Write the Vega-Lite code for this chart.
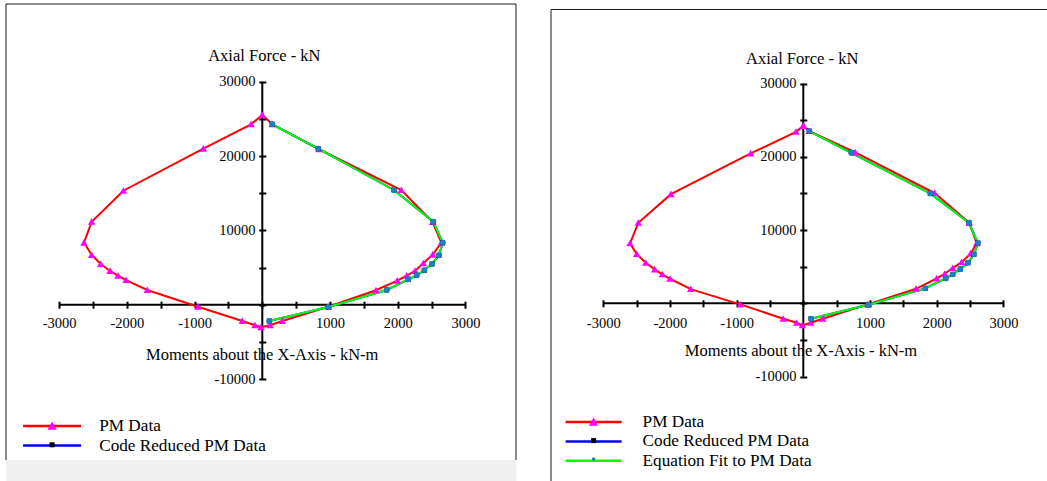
{
  "$schema": "https://vega.github.io/schema/vega-lite/v6.json",
  "background": "white",
  "padding": {"left": 5, "top": 3, "right": 0, "bottom": 0},
  "bounds": "flush",
  "spacing": 33,
  "config": {
    "view": {"stroke": null},
    "font": "Liberation Serif",
    "axis": {
      "domain": false, "grid": false,
      "ticks": true, "tickColor": "black", "tickWidth": 2, "tickSize": 7,
      "labelFont": "Liberation Serif", "labelFontSize": 14.5, "labelColor": "black",
      "labelOverlap": false, "labelFlush": false,
      "titleFont": "Liberation Serif", "titleFontSize": 16.5, "titleFontWeight": "normal", "titleColor": "black"
    },
    "legend": {
      "orient": "none", "padding": 0, "title": null,
      "labelFont": "Liberation Serif", "labelFontSize": 17.2, "labelColor": "black", "labelLimit": 0,
      "symbolSize": 100, "symbolOpacity": 1
    }
  },
  "datasets": {
    "left": [
      {"series": "PM Data", "M": 0, "P": 25530},
      {"series": "PM Data", "M": -167, "P": 24280},
      {"series": "PM Data", "M": -871, "P": 21000},
      {"series": "PM Data", "M": -2053, "P": 15340},
      {"series": "PM Data", "M": -2520, "P": 11170},
      {"series": "PM Data", "M": -2634, "P": 8340},
      {"series": "PM Data", "M": -2520, "P": 6690},
      {"series": "PM Data", "M": -2387, "P": 5480},
      {"series": "PM Data", "M": -2250, "P": 4540},
      {"series": "PM Data", "M": -2131, "P": 3900},
      {"series": "PM Data", "M": -2013, "P": 3320},
      {"series": "PM Data", "M": -1699, "P": 1980},
      {"series": "PM Data", "M": -950, "P": -270},
      {"series": "PM Data", "M": -295, "P": -2190},
      {"series": "PM Data", "M": -108, "P": -2770},
      {"series": "PM Data", "M": -19, "P": -3040},
      {"series": "PM Data", "M": 114, "P": -2770},
      {"series": "PM Data", "M": 295, "P": -2190},
      {"series": "PM Data", "M": 975, "P": -270},
      {"series": "PM Data", "M": 1679, "P": 1940},
      {"series": "PM Data", "M": 1994, "P": 3230},
      {"series": "PM Data", "M": 2133, "P": 3900},
      {"series": "PM Data", "M": 2256, "P": 4540},
      {"series": "PM Data", "M": 2378, "P": 5570},
      {"series": "PM Data", "M": 2517, "P": 6730},
      {"series": "PM Data", "M": 2644, "P": 8340},
      {"series": "PM Data", "M": 2517, "P": 11130},
      {"series": "PM Data", "M": 2053, "P": 15440},
      {"series": "PM Data", "M": 838, "P": 20920},
      {"series": "PM Data", "M": 148, "P": 24280},
      {"series": "PM Data", "M": 0, "P": 25530},
      {"series": "Code Reduced PM Data", "M": 148, "P": 24280},
      {"series": "Code Reduced PM Data", "M": 827, "P": 21000},
      {"series": "Code Reduced PM Data", "M": 1945, "P": 15440},
      {"series": "Code Reduced PM Data", "M": 2526, "P": 11170},
      {"series": "Code Reduced PM Data", "M": 2665, "P": 8340},
      {"series": "Code Reduced PM Data", "M": 2610, "P": 6650},
      {"series": "Code Reduced PM Data", "M": 2507, "P": 5480},
      {"series": "Code Reduced PM Data", "M": 2393, "P": 4630},
      {"series": "Code Reduced PM Data", "M": 2281, "P": 3960},
      {"series": "Code Reduced PM Data", "M": 2157, "P": 3420},
      {"series": "Code Reduced PM Data", "M": 1838, "P": 1980},
      {"series": "Code Reduced PM Data", "M": 975, "P": -310},
      {"series": "Code Reduced PM Data", "M": 103, "P": -2190},
      {"series": "Equation Fit to PM Data", "M": 148, "P": 24280},
      {"series": "Equation Fit to PM Data", "M": 827, "P": 21000},
      {"series": "Equation Fit to PM Data", "M": 1945, "P": 15440},
      {"series": "Equation Fit to PM Data", "M": 2526, "P": 11170},
      {"series": "Equation Fit to PM Data", "M": 2665, "P": 8340},
      {"series": "Equation Fit to PM Data", "M": 2610, "P": 6650},
      {"series": "Equation Fit to PM Data", "M": 2507, "P": 5480},
      {"series": "Equation Fit to PM Data", "M": 2393, "P": 4630},
      {"series": "Equation Fit to PM Data", "M": 2281, "P": 3960},
      {"series": "Equation Fit to PM Data", "M": 2157, "P": 3420},
      {"series": "Equation Fit to PM Data", "M": 1838, "P": 1980},
      {"series": "Equation Fit to PM Data", "M": 975, "P": -310},
      {"series": "Equation Fit to PM Data", "M": 103, "P": -2190}
    ],
    "right": [
      {"series": "PM Data", "M": 0, "P": 24230},
      {"series": "PM Data", "M": -109, "P": 23410},
      {"series": "PM Data", "M": -789, "P": 20460},
      {"series": "PM Data", "M": -1984, "P": 14910},
      {"series": "PM Data", "M": -2474, "P": 11000},
      {"series": "PM Data", "M": -2598, "P": 8190},
      {"series": "PM Data", "M": -2498, "P": 6730},
      {"series": "PM Data", "M": -2363, "P": 5540},
      {"series": "PM Data", "M": -2228, "P": 4640},
      {"series": "PM Data", "M": -2114, "P": 3960},
      {"series": "PM Data", "M": -1999, "P": 3360},
      {"series": "PM Data", "M": -1688, "P": 1950},
      {"series": "PM Data", "M": -945, "P": -140},
      {"series": "PM Data", "M": -300, "P": -2100},
      {"series": "PM Data", "M": -99, "P": -2650},
      {"series": "PM Data", "M": -15, "P": -3000},
      {"series": "PM Data", "M": 111, "P": -2650},
      {"series": "PM Data", "M": 291, "P": -2100},
      {"series": "PM Data", "M": 966, "P": -140},
      {"series": "PM Data", "M": 1690, "P": 1990},
      {"series": "PM Data", "M": 2000, "P": 3410},
      {"series": "PM Data", "M": 2120, "P": 4040},
      {"series": "PM Data", "M": 2240, "P": 4820},
      {"series": "PM Data", "M": 2375, "P": 5630},
      {"series": "PM Data", "M": 2510, "P": 6820},
      {"series": "PM Data", "M": 2600, "P": 8190},
      {"series": "PM Data", "M": 2489, "P": 11000},
      {"series": "PM Data", "M": 1970, "P": 15050},
      {"series": "PM Data", "M": 780, "P": 20600},
      {"series": "PM Data", "M": 90, "P": 23510},
      {"series": "PM Data", "M": 0, "P": 24230},
      {"series": "Code Reduced PM Data", "M": 90, "P": 23510},
      {"series": "Code Reduced PM Data", "M": 720, "P": 20550},
      {"series": "Code Reduced PM Data", "M": 1904, "P": 15010},
      {"series": "Code Reduced PM Data", "M": 2484, "P": 11000},
      {"series": "Code Reduced PM Data", "M": 2619, "P": 8230},
      {"series": "Code Reduced PM Data", "M": 2559, "P": 6690},
      {"series": "Code Reduced PM Data", "M": 2469, "P": 5540},
      {"series": "Code Reduced PM Data", "M": 2354, "P": 4680},
      {"series": "Code Reduced PM Data", "M": 2240, "P": 3960},
      {"series": "Code Reduced PM Data", "M": 2135, "P": 3410},
      {"series": "Code Reduced PM Data", "M": 1829, "P": 2050},
      {"series": "Code Reduced PM Data", "M": 975, "P": -190},
      {"series": "Code Reduced PM Data", "M": 115, "P": -2100},
      {"series": "Equation Fit to PM Data", "M": 90, "P": 23510},
      {"series": "Equation Fit to PM Data", "M": 720, "P": 20550},
      {"series": "Equation Fit to PM Data", "M": 1904, "P": 15010},
      {"series": "Equation Fit to PM Data", "M": 2484, "P": 11000},
      {"series": "Equation Fit to PM Data", "M": 2619, "P": 8230},
      {"series": "Equation Fit to PM Data", "M": 2559, "P": 6690},
      {"series": "Equation Fit to PM Data", "M": 2469, "P": 5540},
      {"series": "Equation Fit to PM Data", "M": 2354, "P": 4680},
      {"series": "Equation Fit to PM Data", "M": 2240, "P": 3960},
      {"series": "Equation Fit to PM Data", "M": 2135, "P": 3410},
      {"series": "Equation Fit to PM Data", "M": 1829, "P": 2050},
      {"series": "Equation Fit to PM Data", "M": 975, "P": -190},
      {"series": "Equation Fit to PM Data", "M": 115, "P": -2100}
    ]
  },
  "resolve": {
    "scale": {"color": "independent", "shape": "independent"},
    "legend": {"color": "independent", "shape": "independent"}
  },
  "hconcat": [
    {
      "width": 512,
      "height": 478,
      "data": {"name": "left"},
      "resolve": {"scale": {"shape": "independent"}, "legend": {"shape": "independent"}},
      "layer": [
        {
          "data": {"values": [{}]},
          "mark": {"type": "rect", "color": "#f0f0f0"},
          "encoding": {
            "x": {"datum": -3786, "type": "quantitative"},
            "x2": {"datum": 3755},
            "y": {"datum": -20902, "type": "quantitative"},
            "y2": {"datum": -23728}
          }
        },
        {
          "data": {"values": [{}]},
          "mark": {"type": "rule", "color": "#1a1a1a", "strokeWidth": 1},
          "encoding": {
            "x": {"datum": -3786, "type": "quantitative"},
            "y": {"datum": -20902, "type": "quantitative"},
            "y2": {"datum": 40471}
          }
        },
        {
          "data": {"values": [{}]},
          "mark": {"type": "rule", "color": "#1a1a1a", "strokeWidth": 1},
          "encoding": {
            "x": {"datum": 3747, "type": "quantitative"},
            "y": {"datum": -20902, "type": "quantitative"},
            "y2": {"datum": 40471}
          }
        },
        {
          "data": {"values": [{}]},
          "mark": {"type": "rule", "color": "#1a1a1a", "strokeWidth": 1},
          "encoding": {
            "x": {"datum": -3786, "type": "quantitative"},
            "x2": {"datum": 3747},
            "y": {"datum": 40471, "type": "quantitative"}
          }
        },
        {
          "data": {"values": [{}]},
          "mark": {"type": "rule", "color": "black", "strokeWidth": 2},
          "encoding": {
            "x": {"datum": -3000, "type": "quantitative"},
            "x2": {"datum": 3000},
            "y": {"datum": 0, "type": "quantitative"}
          }
        },
        {
          "data": {"values": [{}]},
          "mark": {"type": "rule", "color": "black", "strokeWidth": 2},
          "encoding": {
            "x": {"datum": 0, "type": "quantitative"},
            "y": {"datum": -10000, "type": "quantitative"},
            "y2": {"datum": 30000}
          }
        },
        {
          "mark": {"type": "line", "strokeWidth": 2},
          "encoding": {
            "x": {
              "field": "M", "type": "quantitative",
              "scale": {"domain": [-3800.6, 3762.2], "nice": false, "zero": false},
              "axis": {
                "orient": "bottom", "offset": -179.8,
                "values": [-3000, -2500, -2000, -1500, -1000, -500, 0, 500, 1000, 1500, 2000, 2500, 3000],
                "labelExpr": "datum.value % 1000 === 0 && datum.value !== 0 ? '' + datum.value : ''",
                "labelBaseline": "middle", "labelPadding": 15.1,
                "title": "Moments about the X-Axis - kN-m",
                "titleX": 256.7, "titleY": 52.8, "titleAlign": "center", "titleBaseline": "middle"
              }
            },
            "y": {
              "field": "P", "type": "quantitative",
              "scale": {"domain": [-23728, 40606], "nice": false, "zero": false},
              "axis": {
                "orient": "left", "offset": -260.8,
                "values": [-10000, -5000, 0, 5000, 10000, 15000, 20000, 25000, 30000],
                "labelExpr": "datum.value % 10000 === 0 && datum.value !== 0 ? '' + datum.value : ''",
                "labelPadding": 3.8,
                "title": "Axial Force - kN", "titleAngle": 0,
                "titleX": -2, "titleY": 52, "titleAlign": "center", "titleBaseline": "middle"
              }
            },
            "color": {
              "field": "series", "type": "nominal",
              "scale": {"domain": ["PM Data", "Code Reduced PM Data", "Equation Fit to PM Data"], "range": ["#ff0000", "#0000ff", "#00ff00"]},
              "legend": {
                "values": ["PM Data", "Code Reduced PM Data"],
                "legendX": 38.5, "legendY": 414.5,
                "symbolType": "M-5.8,0H5.8", "symbolStrokeWidth": 2.5,
                "labelOffset": 38.5, "rowPadding": 1.5
              }
            },
            "order": {"value": null}
          }
        },
        {
          "transform": [{"filter": {"field": "series", "equal": "PM Data"}}],
          "mark": {"type": "point", "filled": true, "opacity": 1, "strokeWidth": 0, "size": 64, "color": "#ff00ff"},
          "encoding": {
            "x": {"field": "M", "type": "quantitative"},
            "y": {"field": "P", "type": "quantitative"},
            "shape": {
              "field": "series", "type": "nominal",
              "scale": {"range": ["M-0.93,0.75L0,-0.9L0.93,0.75Z"]},
              "legend": {
                "legendX": 38.5, "legendY": 414.5,
                "symbolFillColor": "#ff00ff", "symbolStrokeWidth": 0, "labelOpacity": 0,
                "labelOffset": 38.5
              }
            }
          }
        },
        {
          "transform": [{"filter": {"field": "series", "equal": "Code Reduced PM Data"}}],
          "mark": {"type": "point", "filled": true, "opacity": 1, "strokeWidth": 0, "size": 100, "color": "#000000"},
          "encoding": {
            "x": {"field": "M", "type": "quantitative"},
            "y": {"field": "P", "type": "quantitative"},
            "shape": {
              "field": "series", "type": "nominal",
              "scale": {"range": ["M-0.5,-0.5H0.5V0.5H-0.5Z"]},
              "legend": {
                "legendX": 38.5, "legendY": 433.2,
                "symbolFillColor": "#000000", "symbolStrokeWidth": 0, "labelOpacity": 0,
                "labelOffset": 38.5
              }
            }
          }
        },
        {
          "transform": [{"filter": {"field": "series", "equal": "Equation Fit to PM Data"}}],
          "mark": {"type": "point", "filled": true, "opacity": 1, "strokeWidth": 0, "size": 290, "color": "#1c7fc4"},
          "encoding": {
            "x": {"field": "M", "type": "quantitative"},
            "y": {"field": "P", "type": "quantitative"},
            "shape": {
              "field": "series", "type": "nominal",
              "scale": {"range": ["M0.35,0A0.35,0.35,0,1,1,-0.35,0A0.35,0.35,0,1,1,0.35,0Z"]},
              "legend": null
            }
          }
        }
      ]
    },
    {
      "width": 497,
      "height": 478,
      "data": {"name": "right"},
      "resolve": {"scale": {"shape": "independent"}, "legend": {"shape": "independent"}},
      "layer": [
        {
          "data": {"values": [{}]},
          "mark": {"type": "rule", "color": "#1a1a1a", "strokeWidth": 1},
          "encoding": {
            "x": {"datum": -3783, "type": "quantitative"},
            "y": {"datum": -24243, "type": "quantitative"},
            "y2": {"datum": 40109}
          }
        },
        {
          "data": {"values": [{}]},
          "mark": {"type": "rule", "color": "#1a1a1a", "strokeWidth": 1},
          "encoding": {
            "x": {"datum": -3783, "type": "quantitative"},
            "x2": {"datum": 3654},
            "y": {"datum": 40109, "type": "quantitative"}
          }
        },
        {
          "data": {"values": [{}]},
          "mark": {"type": "rule", "color": "black", "strokeWidth": 2},
          "encoding": {
            "x": {"datum": -3000, "type": "quantitative"},
            "x2": {"datum": 3000},
            "y": {"datum": 0, "type": "quantitative"}
          }
        },
        {
          "data": {"values": [{}]},
          "mark": {"type": "rule", "color": "black", "strokeWidth": 2},
          "encoding": {
            "x": {"datum": 0, "type": "quantitative"},
            "y": {"datum": -10000, "type": "quantitative"},
            "y2": {"datum": 30000}
          }
        },
        {
          "mark": {"type": "line", "strokeWidth": 2},
          "encoding": {
            "x": {
              "field": "M", "type": "quantitative",
              "scale": {"domain": [-3798, 3654], "nice": false, "zero": false},
              "axis": {
                "orient": "bottom", "offset": -181.2,
                "values": [-3000, -2500, -2000, -1500, -1000, -500, 0, 500, 1000, 1500, 2000, 2500, 3000],
                "labelExpr": "datum.value % 1000 === 0 && datum.value !== 0 ? '' + datum.value : ''",
                "labelBaseline": "middle", "labelPadding": 16.5,
                "title": "Moments about the X-Axis - kN-m",
                "titleX": 250.5, "titleY": 50.9, "titleAlign": "center", "titleBaseline": "middle"
              }
            },
            "y": {
              "field": "P", "type": "quantitative",
              "scale": {"domain": [-24243, 40996], "nice": false, "zero": false},
              "axis": {
                "orient": "left", "offset": -256.8,
                "values": [-10000, -5000, 0, 5000, 10000, 15000, 20000, 25000, 30000],
                "labelExpr": "datum.value % 10000 === 0 && datum.value !== 0 ? '' + datum.value : ''",
                "labelPadding": 3.8,
                "title": "Axial Force - kN", "titleAngle": 0,
                "titleX": -5.1, "titleY": 55.3, "titleAlign": "center", "titleBaseline": "middle"
              }
            },
            "color": {
              "field": "series", "type": "nominal",
              "scale": {"domain": ["PM Data", "Code Reduced PM Data", "Equation Fit to PM Data"], "range": ["#ff0000", "#0000ff", "#00ff00"]},
              "legend": {
                "legendX": 35, "legendY": 410.5,
                "symbolType": "M-5.6,0H5.6", "symbolStrokeWidth": 2.5,
                "labelOffset": 40.4, "rowPadding": 1.3
              }
            },
            "order": {"value": null}
          }
        },
        {
          "transform": [{"filter": {"field": "series", "equal": "PM Data"}}],
          "mark": {"type": "point", "filled": true, "opacity": 1, "strokeWidth": 0, "size": 64, "color": "#ff00ff"},
          "encoding": {
            "x": {"field": "M", "type": "quantitative"},
            "y": {"field": "P", "type": "quantitative"},
            "shape": {
              "field": "series", "type": "nominal",
              "scale": {"range": ["M-0.93,0.75L0,-0.9L0.93,0.75Z"]},
              "legend": {
                "legendX": 35, "legendY": 410.5,
                "symbolFillColor": "#ff00ff", "symbolStrokeWidth": 0, "labelOpacity": 0,
                "labelOffset": 40.4
              }
            }
          }
        },
        {
          "transform": [{"filter": {"field": "series", "equal": "Code Reduced PM Data"}}],
          "mark": {"type": "point", "filled": true, "opacity": 1, "strokeWidth": 0, "size": 100, "color": "#000000"},
          "encoding": {
            "x": {"field": "M", "type": "quantitative"},
            "y": {"field": "P", "type": "quantitative"},
            "shape": {
              "field": "series", "type": "nominal",
              "scale": {"range": ["M-0.5,-0.5H0.5V0.5H-0.5Z"]},
              "legend": {
                "legendX": 35, "legendY": 429.0,
                "symbolFillColor": "#000000", "symbolStrokeWidth": 0, "labelOpacity": 0,
                "labelOffset": 40.4
              }
            }
          }
        },
        {
          "transform": [{"filter": {"field": "series", "equal": "Equation Fit to PM Data"}}],
          "mark": {"type": "point", "filled": true, "opacity": 1, "strokeWidth": 0, "size": 290, "color": "#1c7fc4"},
          "encoding": {
            "x": {"field": "M", "type": "quantitative"},
            "y": {"field": "P", "type": "quantitative"},
            "shape": {
              "field": "series", "type": "nominal",
              "scale": {"range": ["M0.35,0A0.35,0.35,0,1,1,-0.35,0A0.35,0.35,0,1,1,0.35,0Z"]},
              "legend": {
                "legendX": 35, "legendY": 447.5,
                "symbolFillColor": "#1c7fc4", "symbolStrokeWidth": 0, "labelOpacity": 0,
                "labelOffset": 40.4
              }
            }
          }
        }
      ]
    }
  ]
}
